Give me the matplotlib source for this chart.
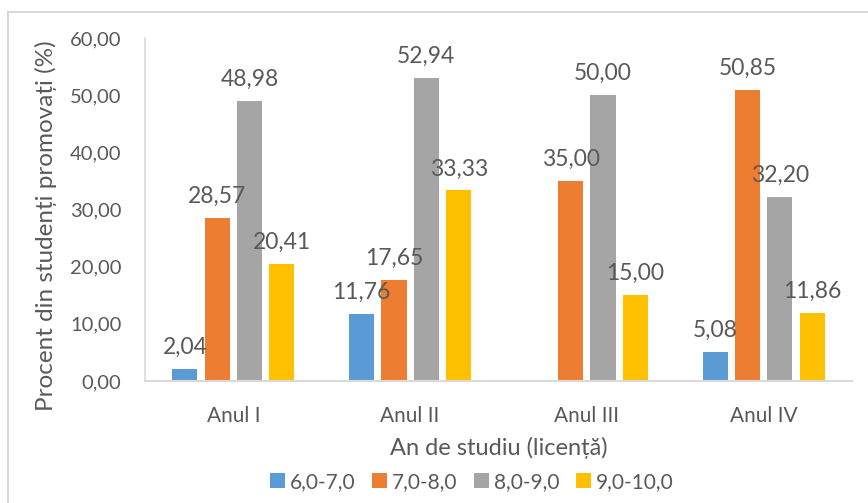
import numpy as np
import matplotlib
matplotlib.use('Agg')
import matplotlib.pyplot as plt
from matplotlib.patches import Rectangle

# data
years = ['Anul I', 'Anul II', 'Anul III', 'Anul IV']
grade_ranges = ['6,0-7,0', '7,0-8,0', '8,0-9,0', '9,0-10,0']
g6_7 = [2.04, 11.76, 0.0, 5.08]
g7_8 = [28.57, 17.65, 35.00, 50.85]
g8_9 = [48.98, 52.94, 50.00, 32.20]
g9_10 = [20.41, 33.33, 15.00, 11.86]
yticks = [0, 10, 20, 30, 40, 50, 60]

series = [g6_7, g7_8, g8_9, g9_10]
colors = ['#5B9BD5', '#ED7D31', '#A5A5A5', '#FFC000']
txt = '#595959'

plt.rcParams['font.family'] = ['Lato', 'DejaVu Sans']

fig = plt.figure(figsize=(8.68, 5.03), dpi=100)
# chart border (like the excel chart frame)
fig.patches.append(Rectangle((7.5 / 868, -0.1), 1.2, 1.1 - 12 / 503,
                             transform=fig.transFigure, fill=False,
                             edgecolor='#D9D9D9', linewidth=1.5))

ax = fig.add_axes([145 / 868, 122 / 503, 707 / 868, 343 / 503])

x = np.arange(len(years))
pitch = 0.183
width = 0.142
for i, vals in enumerate(series):
    pos = x + (i - 1.5) * pitch
    ax.bar(pos, vals, width, color=colors[i], label=grade_ranges[i])
    for xp, v in zip(pos, vals):
        if v == 0:
            continue
        ax.annotate(('%.2f' % v).replace('.', ','), (xp, v),
                    xytext=(0, 8), textcoords='offset points',
                    ha='center', va='bottom', fontsize=16.5, color=txt)

ax.set_xlim(-0.5, 3.5)
ax.set_ylim(0, 60)
ax.set_yticks(yticks)
ax.set_yticklabels([('%.2f' % t).replace('.', ',') for t in yticks],
                   fontsize=14.5, color=txt)
ax.set_xticks(x)
ax.set_xticklabels(years, fontsize=15, color=txt)
ax.tick_params(axis='both', length=0)
ax.tick_params(axis='y', pad=17)
ax.tick_params(axis='x', pad=18)

for s in ['top', 'right']:
    ax.spines[s].set_visible(False)
ax.spines['left'].set_color('#D9D9D9')
ax.spines['bottom'].set_color('#D9D9D9')
ax.spines['left'].set_linewidth(1.2)
ax.spines['bottom'].set_linewidth(1.5)

ax.set_xlabel('An de studiu (licență)', fontsize=17, color=txt, labelpad=8)
ax.set_ylabel('Procent din studenți promovați (%)', fontsize=17.5, color=txt)
ax.yaxis.set_label_coords(-0.125, 0.452)

ax.legend(loc='center', bbox_to_anchor=(472 / 868, 21 / 503),
          bbox_transform=fig.transFigure, ncol=4, frameon=False,
          fontsize=15, handlelength=0.7, handleheight=0.7,
          handletextpad=0.25, columnspacing=0.8, labelcolor=txt)

fig.savefig('out.png', dpi=100)
